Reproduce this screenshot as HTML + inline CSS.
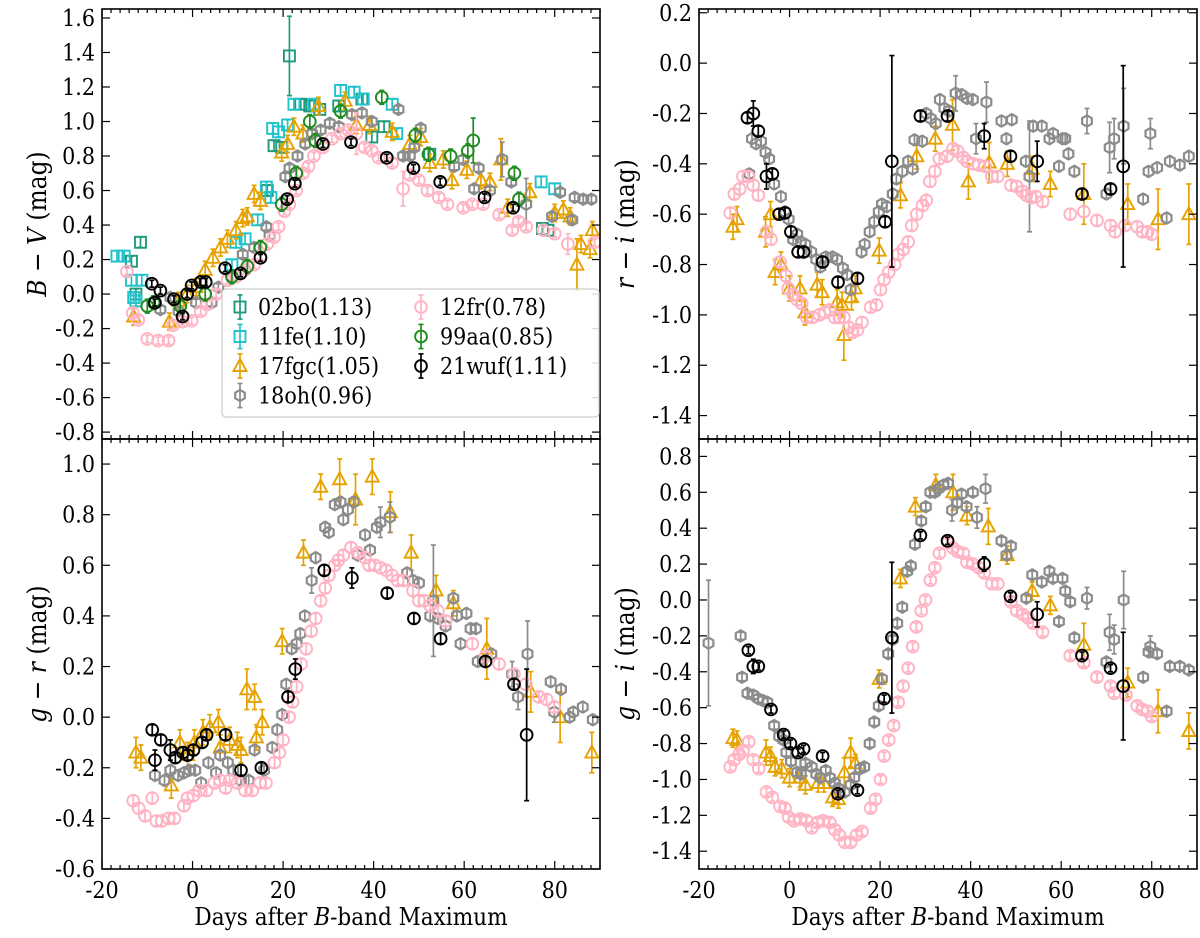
<!DOCTYPE html>
<html><head><meta charset="utf-8"><style>
html,body{margin:0;padding:0;background:#fff;}
svg{display:block;font-family:"DejaVu Serif Condensed","DejaVu Serif","Liberation Serif",serif;}
</style></head><body>
<svg id="fig" width="1200" height="938" viewBox="0 0 1200 938" xmlns="http://www.w3.org/2000/svg"></svg>
<script>
// ---------- DATA: [day, colour, (error)] ----------
// Panel 1: B - V
const bv02bo=[[-13.5,0.19],[-11.5,0.30],[-12.5,0.0],[16.5,0.6],[18,0.86],[19.7,0.85],[21.4,1.38,0.23],[23.9,1.1],[25.9,1.09],[28.1,1.07],[32.3,1.09],[37.4,1.13],[39.6,0.91],[42.3,0.97],[52.4,0.81],[77.3,0.38],[78.5,0.37]];
const bv11fe=[[-16.7,0.22],[-15.1,0.22],[-13.5,0.08],[-11.2,0.08],[-13,-0.02],[-12.5,-0.04],[8.7,0.17],[9.6,0.30],[11.6,0.32],[14.4,0.43],[16.3,0.62],[17.3,0.56],[17.7,0.96],[19,0.94],[21,0.98],[22.4,1.1],[26.8,1.1],[32.7,1.18],[35.7,1.17],[37.7,1.13],[44.1,1.1],[45.1,0.93],[77,0.65],[80,0.61]];
const bv17fgc=[[-13,-0.13],[-5.1,-0.16],[-3.1,-0.04],[-1.2,0],[0.8,0.04],[2.8,0.14],[4.5,0.21],[6.2,0.27],[7.7,0.32],[9.6,0.37],[11.1,0.44],[12.1,0.45],[13.6,0.58],[15,0.54],[19.7,0.82],[21,0.87],[22.4,0.97],[24.4,0.93],[27.8,1.09],[33.7,1.12],[36.2,0.98],[39.1,0.98],[44.1,0.94],[48,0.87],[50.4,0.91],[52.4,0.76],[55.4,0.78],[57.3,0.66],[60.6,0.72],[63.7,0.66],[65.7,0.65],[68.1,0.78,0.12],[69.6,0.5],[74.5,0.59],[80,0.47],[81.9,0.49],[83.4,0.45],[84.9,0.17,0.15],[85.8,0.29],[87.8,0.26],[88.3,0.37]];
const bv18oh=[[-7.1,-0.09],[-4.9,-0.02],[-3.1,-0.10],[0.8,-0.05],[4.2,-0.05],[5.7,0.04],[8.7,0.1],[11.1,0.23],[13.6,0.27],[16.3,0.39],[17,0.34],[20.5,0.68],[21.4,0.73],[23.2,0.8],[24.9,0.87],[26.4,0.93],[28.3,0.95],[30.3,0.99],[32.3,0.97],[35.2,1.04],[37.4,1.05],[39.6,1.0],[45.5,1.07],[46.5,0.8],[48,0.8],[49,0.85],[50.4,0.96],[57.8,0.74],[59.8,0.78],[62.2,0.61],[63.2,0.73],[65.7,0.6],[68.4,0.78,0.1],[70.4,0.65],[73.7,0.52,0.15],[79.4,0.45],[81.2,0.59],[83.9,0.43],[84.4,0.56],[86.3,0.55],[88.1,0.55]];
const bv12fr=[[-14.5,0.13],[-13.2,-0.11],[-12,-0.15],[-10,-0.26],[-7.6,-0.27],[-5.3,-0.27],[-4.3,-0.18],[-2.2,-0.16],[-0.2,-0.155],[1.8,-0.1],[3.2,-0.06],[5.2,0.0],[7.7,0.08],[9.6,0.1],[11.6,0.14],[13.6,0.17],[15,0.22],[16.5,0.29],[18,0.33],[19,0.39],[20.3,0.48],[21.4,0.52],[22.9,0.6],[24.4,0.7],[25.6,0.74],[26.8,0.8],[28.8,0.85],[30.8,0.9],[32.7,0.93],[34.4,0.95],[36.2,0.93,0.12],[38,0.85],[39.6,0.83],[41.1,0.79],[44.1,0.76],[46.5,0.61,0.1],[48,0.69],[50,0.66],[51.9,0.6],[54.4,0.56],[56.3,0.52],[59.8,0.5],[61.8,0.52],[64.2,0.52],[67.7,0.46],[70.6,0.37],[72,0.42],[73.7,0.39],[77.5,0.37],[80,0.35],[82.9,0.29,0.06],[88.8,0.30]];
const bv99aa=[[-10,-0.07],[-8.6,-0.05],[-2.7,-0.07],[2.8,0],[8.7,0.1],[12.1,0.16],[15,0.27],[19.7,0.52],[22.9,0.7],[25.9,1.0],[27.1,0.89],[32.7,1.06],[41.8,1.14],[49.2,0.92],[52.1,0.81],[57,0.8],[60.8,0.83],[62,0.89,0.13],[71.1,0.7],[72.1,0.55]];
const bv21wuf=[[-9,0.06],[-8.3,-0.05],[-7.1,0.02],[-4.1,-0.03],[-2.2,-0.13],[-1.2,0.0],[-0.2,0.05],[1.8,0.07],[2.9,0.07],[7.2,0.15],[10.6,0.12],[15,0.21],[20.9,0.55],[22.6,0.64],[28.8,0.87],[35,0.88],[42.9,0.79],[48.8,0.73],[54.7,0.65],[64.5,0.56],[70.8,0.5]];
// Panel 2: r - i
const ri17fgc=[[-12.5,-0.65],[-11.6,-0.62],[-5.3,-0.67,0.06],[-4.2,-0.60],[-3.2,-0.83],[-1.9,-0.80],[0,-0.895],[2.3,-0.895],[3.4,-0.99],[6.1,-0.88],[7.2,-0.91],[10.5,-0.95],[11.6,-0.96],[12,-1.08,0.1],[13.7,-0.93],[14.5,-0.895],[19.8,-0.745],[24.5,-0.525],[28.1,-0.37],[32.2,-0.30],[36,-0.245,0.1],[39.5,-0.47,0.07],[44.1,-0.395,0.08],[48.1,-0.40],[53.6,-0.42],[57.6,-0.48],[65,-0.52,0.12],[74.7,-0.56,0.08],[81.4,-0.62,0.12],[88.2,-0.60,0.12]];
const ri18oh=[[-8.9,-0.44],[-8.3,-0.30],[-7.4,-0.32],[-6.3,-0.31],[-5.3,-0.355],[-4.5,-0.38],[-3.4,-0.48],[-1.9,-0.53],[-1,-0.59],[-0.2,-0.62],[0.8,-0.70],[1.7,-0.68],[2.5,-0.71],[3.5,-0.72],[4.8,-0.75],[5.9,-0.78],[6.8,-0.81],[8,-0.77],[9.5,-0.77],[10.5,-0.78],[11.8,-0.815],[12.7,-0.84],[13.5,-0.90],[15.9,-0.75],[16.6,-0.72],[17.7,-0.67],[18.7,-0.63],[19.7,-0.59],[20.4,-0.56],[21.5,-0.57],[22.8,-0.52],[23.6,-0.46],[24.9,-0.43],[26.2,-0.39],[27.2,-0.42],[27.6,-0.305],[29.3,-0.31],[30.2,-0.20],[31.2,-0.22],[32.3,-0.24],[33.2,-0.145],[34.2,-0.18],[35.2,-0.19],[36.7,-0.12,0.07],[38,-0.125],[39.2,-0.14],[40.5,-0.145],[41.2,-0.30,0.06],[43.5,-0.155,0.08],[46.8,-0.23],[47.9,-0.30],[49.1,-0.225],[52.2,-0.39],[53,-0.45,0.22],[53.8,-0.25],[55.7,-0.25],[57.4,-0.30],[58.2,-0.28],[59.5,-0.41],[60.3,-0.30],[60.9,-0.30],[61.6,-0.36],[62.9,-0.43],[65.7,-0.23,0.05],[70,-0.52],[70.7,-0.335,0.1],[71.7,-0.30,0.08],[73.8,-0.25,0.15],[78.1,-0.54],[79.3,-0.43],[79.7,-0.28,0.06],[81.2,-0.415],[83.3,-0.615],[84,-0.39],[86.2,-0.405],[88.2,-0.37]];
const ri12fr=[[-13.1,-0.595],[-12.2,-0.52],[-11,-0.50],[-10.3,-0.45],[-9.1,-0.45],[-8,-0.485],[-6.9,-0.525],[-5.1,-0.67],[-4.1,-0.70],[-2.1,-0.79],[-0.8,-0.845],[-0.3,-0.895],[0.8,-0.92],[1.7,-0.94],[2.7,-0.955],[3.8,-1.01],[5.1,-1.01],[6.6,-1.0],[7.8,-0.99],[8.9,-0.98],[10,-1.01],[11,-1.01],[12,-1.01],[13.1,-1.05],[13.9,-1.07],[15,-1.06],[16,-1.03],[17.9,-0.97],[19.2,-0.96],[20.1,-0.90],[20.9,-0.86],[21.9,-0.83],[23.2,-0.80],[24,-0.76],[25.1,-0.74],[26.2,-0.71],[27,-0.645],[28.1,-0.60],[29.4,-0.565],[30.2,-0.545],[31,-0.47],[32.1,-0.43],[33.1,-0.38],[34.8,-0.37],[36.1,-0.34],[37.1,-0.35],[38.4,-0.375],[39.2,-0.39],[40.5,-0.40],[41.8,-0.405],[43.2,-0.41],[44.7,-0.45],[46,-0.45],[48.9,-0.485],[50.2,-0.49],[51.5,-0.51],[52.3,-0.525],[53.4,-0.535],[54.4,-0.53],[55.9,-0.55],[62,-0.60],[65,-0.59],[67.9,-0.625],[70.9,-0.645],[71.9,-0.67],[74.1,-0.645],[76.8,-0.65],[77.9,-0.67],[79.1,-0.67],[80,-0.68]];
const ri21wuf=[[-9.3,-0.217],[-8,-0.20,0.05],[-6.9,-0.27],[-5.1,-0.45,0.05],[-3.8,-0.44],[-2.3,-0.60],[-1,-0.595],[0.3,-0.67],[1.9,-0.75],[3.1,-0.75],[7.3,-0.79],[10.7,-0.87],[15,-0.855],[21.1,-0.63],[22.6,-0.39,0.42],[28.9,-0.21],[34.9,-0.21],[43,-0.29,0.05],[48.8,-0.37],[54.7,-0.39,0.08],[64.6,-0.52],[70.9,-0.50],[73.7,-0.41,0.4]];
// Panel 3: g - r
const gr17fgc=[[-12.5,-0.14,0.06],[-11.4,-0.16],[-4.7,-0.27],[-2.8,-0.10],[-1.1,-0.15],[0.4,-0.10],[2.3,-0.06],[3.8,-0.04],[5.7,-0.02],[6.1,-0.12],[8.2,-0.09],[9.9,-0.11],[10.7,-0.13],[12,0.11,0.08],[13.7,0.08],[14.1,-0.08],[15.4,-0.02],[19.8,0.30],[24.5,0.65],[28.3,0.91],[32.5,0.94,0.08],[36,0.86,0.1],[39.7,0.95,0.07],[43.7,0.81,0.08],[48.3,0.65,0.07],[53.8,0.50,0.06],[57.6,0.45],[65,0.27,0.12],[74.7,0.10,0.08],[81.2,0.0,0.1],[88.2,-0.14,0.08]];
const gr18oh=[[-8.3,-0.23],[-6.2,-0.25],[-4.9,-0.21],[-3.2,-0.23],[-1.9,-0.22],[-0.7,-0.21],[0.6,-0.21],[1.9,-0.26],[3.5,-0.18],[5.2,-0.22],[6.1,-0.15],[7.8,-0.18],[9,-0.21],[10.7,-0.25],[12.4,-0.25],[13.7,-0.13],[15.8,-0.21],[17.6,-0.12],[18.7,-0.05],[19.8,0.01],[20.7,0.13],[21.9,0.27],[23,0.29],[23.8,0.33],[24.8,0.40],[26.3,0.54,0.05],[27.2,0.63],[29.3,0.75],[30.1,0.73],[31.4,0.84],[32.7,0.85],[33.3,0.78],[34.3,0.82],[35.6,0.85],[36.5,0.64],[38.1,0.72],[39.2,0.66],[40.7,0.75],[41.5,0.77,0.06],[43.6,0.79,0.06],[47.4,0.57],[48.7,0.54],[50,0.53],[52.5,0.40],[53.2,0.46,0.22],[54.2,0.39],[55.9,0.36],[57.6,0.47],[58.4,0.40],[59.2,0.29],[60.5,0.41],[61.4,0.35],[62.6,0.35],[63,0.22],[66,0.25],[70.6,0.17,0.05],[71.9,0.08,0.05],[74,0.25,0.13],[79.1,0.14],[79.9,0.02,0.04],[81.4,0.11],[83.3,0.0],[84.1,0.02],[86.2,0.04],[88.4,-0.01]];
const gr12fr=[[-13.1,-0.33],[-11.9,-0.36],[-10.5,-0.39],[-8.9,-0.32],[-8,-0.41],[-6.8,-0.41],[-5.3,-0.40],[-4,-0.40],[-1.9,-0.35],[-1.1,-0.32],[0.2,-0.31],[1.4,-0.29],[3.1,-0.29],[4.8,-0.26],[6.1,-0.25],[7.3,-0.28],[8.2,-0.25],[9.9,-0.26],[11.6,-0.29],[13.2,-0.29],[14.9,-0.26],[16.2,-0.26],[18.1,-0.18],[19.2,-0.14],[20,-0.09],[21.3,0.0],[22.1,0.06],[23,0.12],[24,0.21],[25.1,0.27],[26.2,0.34],[27.2,0.39],[28.3,0.46],[29.3,0.51],[30.1,0.56],[31.4,0.60],[32.2,0.62],[33.3,0.64],[35,0.67],[36.5,0.65],[38.1,0.63],[39,0.60],[40.3,0.60],[41.5,0.59],[42.8,0.58],[44.1,0.56],[45.3,0.54],[46.6,0.54],[48.7,0.50],[50,0.46],[51.2,0.46],[52.5,0.44],[54.2,0.42],[55.9,0.38],[61.8,0.29],[64.7,0.24],[67.7,0.21],[71,0.17],[73.6,0.13],[76.5,0.08],[78.2,0.07],[79.9,0.04]];
const gr21wuf=[[-8.9,-0.05],[-8.3,-0.17,0.04],[-7,-0.09],[-4.9,-0.13,0.04],[-3.8,-0.16],[-2.1,-0.14],[-1.1,-0.15],[0.2,-0.13],[2.1,-0.10],[3.1,-0.07],[7.3,-0.07],[10.7,-0.21],[15.2,-0.20],[21.1,0.08],[22.7,0.19,0.04],[29.1,0.58],[35.2,0.55,0.04],[43,0.49],[48.9,0.39],[54.8,0.31],[64.7,0.22],[71,0.13],[73.8,-0.07,0.26]];
// Panel 4: g - i
const gi17fgc=[[-12.5,-0.77,0.05],[-11.6,-0.78],[-5.2,-0.85,0.07],[-4.2,-0.87],[-3.2,-0.93],[-1.7,-0.94],[0,-0.99],[2.3,-0.99],[3.5,-1.03],[6.3,-1.02],[7.6,-1.02],[9.5,-1.10],[10.8,-1.11],[12.1,-0.96,0.08],[13.5,-0.85,0.08],[14.5,-0.91],[19.8,-0.44],[24.5,0.12],[27.8,0.52],[32.3,0.64,0.06],[36.1,0.60,0.1],[39.2,0.47],[43.9,0.41,0.1],[48.1,0.25],[53.6,0.05],[57.6,-0.03],[65,-0.25,0.12],[74.7,-0.46,0.08],[81.4,-0.62,0.12],[88.2,-0.73,0.1]];
const gi18oh=[[-17.9,-0.24,0.35],[-10.8,-0.20],[-10.5,-0.43],[-9.3,-0.52],[-8,-0.53],[-6.9,-0.55],[-5.9,-0.56],[-4.9,-0.57],[-3.4,-0.70],[-2.3,-0.76],[-1.4,-0.78],[-0.7,-0.85],[0.3,-0.90],[1.7,-0.96],[2.5,-0.97],[3.5,-0.91],[4.9,-0.93],[5.9,-0.97],[6.8,-0.99],[8,-0.95],[8.9,-0.99],[10,-1.02],[10.8,-1.05],[12.2,-1.07],[13.5,-1.03],[14.3,-0.99],[15.6,-0.94],[16.5,-0.93],[17.7,-0.80],[18.7,-0.68],[19.7,-0.59],[20.4,-0.44],[21.8,-0.30],[22.8,-0.22],[23.8,-0.13],[24.9,-0.04],[26,0.16],[26.8,0.19],[27.7,0.31],[29.1,0.44],[30.1,0.52],[31.1,0.60],[32.1,0.60],[32.9,0.62],[34,0.64],[35,0.65],[35.9,0.50,0.06],[37,0.54],[38,0.59],[39.1,0.52],[40.5,0.60],[41.4,0.46,0.06],[43.3,0.62,0.08],[46.8,0.33],[47.9,0.25],[48.9,0.30],[52.3,0.01],[53.6,0.14],[55.7,0.10],[57.4,0.16],[58.2,0.12],[59.5,-0.12],[60.3,0.12],[60.9,0.05],[62,-0.01],[62.9,-0.21],[65.7,0.01,0.06],[70,-0.345],[70.7,-0.18,0.1],[71.7,-0.22,0.08],[73.8,0.0,0.16],[78.1,-0.43],[79.3,-0.29],[79.7,-0.26,0.06],[81.2,-0.30],[83.3,-0.62],[84,-0.37],[86.2,-0.37],[88.2,-0.39]];
const gi12fr=[[-13.1,-0.93],[-12.2,-0.89],[-11.1,-0.86],[-10.3,-0.84],[-9,-0.79],[-8,-0.89],[-6.8,-0.94],[-5.1,-1.07],[-3.8,-1.10],[-2.1,-1.15],[-1,-1.16],[-0.2,-1.21],[1,-1.23],[2.4,-1.22],[3.8,-1.23],[4.9,-1.27],[6.1,-1.24],[7.4,-1.23],[8.9,-1.24],[10,-1.28],[11,-1.31],[12.2,-1.35],[13.5,-1.35],[14.8,-1.31],[16,-1.29],[17.9,-1.16],[19,-1.11],[20.1,-1.0],[20.9,-0.87],[21.9,-0.78],[23,-0.70],[24,-0.57],[25.1,-0.48],[26.2,-0.38],[27.2,-0.26],[28,-0.15],[29.1,-0.06],[30,0.0],[31.1,0.11],[32.1,0.18],[33.1,0.26],[35,0.32],[36.1,0.29],[37.1,0.27],[38.4,0.26],[39.2,0.21],[40.5,0.20],[41.8,0.18],[43,0.15],[44.7,0.09],[46,0.09],[48.9,-0.01],[50.2,-0.06],[51.5,-0.08],[52.7,-0.10],[53.8,-0.13],[55.9,-0.18],[62,-0.31],[65,-0.35],[67.9,-0.43],[70.9,-0.48],[71.7,-0.52],[74.3,-0.53],[76.8,-0.59],[77.9,-0.61],[79.1,-0.62],[80,-0.65]];
const gi21wuf=[[-9.1,-0.28],[-8,-0.37,0.04],[-6.9,-0.37],[-4.1,-0.61],[-1.3,-0.75],[0.2,-0.80],[1.9,-0.85],[3.1,-0.83],[7.3,-0.87],[10.7,-1.08],[15,-1.06],[20.9,-0.55],[22.6,-0.21,0.42],[28.9,0.36],[34.9,0.33],[43,0.20,0.04],[48.8,0.02],[54.7,-0.08,0.07],[64.6,-0.31],[70.9,-0.38],[73.7,-0.48,0.3]];
// axis tick labels
const xTickVals=[-20,0,20,40,60,80];
const bvTicks=[1.6,1.4,1.2,1.0,0.8,0.6,0.4,0.2,0.0,-0.2,-0.4,-0.6,-0.8];
const riTicks=[0.2,0.0,-0.2,-0.4,-0.6,-0.8,-1.0,-1.2,-1.4];
const grTicks=[1.0,0.8,0.6,0.4,0.2,0.0,-0.2,-0.4,-0.6];
const giTicks=[0.8,0.6,0.4,0.2,0.0,-0.2,-0.4,-0.6,-0.8,-1.0,-1.2,-1.4];
const legendLabels=["02bo(1.13)","11fe(1.10)","17fgc(1.05)","18oh(0.96)","12fr(0.78)","99aa(0.85)","21wuf(1.11)"];

// ---------- STYLE ----------
const STY={
 "02bo":{c:"#1f9a7c",m:"square",e:0.03},
 "11fe":{c:"#1fc3cc",m:"square",e:0.03},
 "17fgc":{c:"#e6a200",m:"tri",e:0.05},
 "18oh":{c:"#8c8c8c",m:"hex",e:0.02},
 "12fr":{c:"#ffb3c3",m:"circle",e:0.02},
 "99aa":{c:"#1e8c1e",m:"circle",e:0.04},
 "21wuf":{c:"#000000",m:"circle",e:0.02}
};
const NS="http://www.w3.org/2000/svg";
const svg=document.getElementById('fig');
function mk(tag,attrs,parent){const el=document.createElementNS(NS,tag);for(const k in attrs)el.setAttribute(k,attrs[k]);(parent||svg).appendChild(el);return el;}

function marker(g,name,x,y,err,sy){
 const s=STY[name];
 const grp=mk('g',{},g);
 
 
 const e=(err===undefined)?s.e:err;
 const yt=sy(0)-sy(e);
 mk('line',{x1:x,x2:x,y1:y-yt,y2:y+yt,stroke:s.c,'stroke-width':1.7},grp);
 mk('line',{x1:x-2.5,x2:x+2.5,y1:y-yt,y2:y-yt,stroke:s.c,'stroke-width':1.7},grp);
 mk('line',{x1:x-2.5,x2:x+2.5,y1:y+yt,y2:y+yt,stroke:s.c,'stroke-width':1.7},grp);
 const st={fill:'none',stroke:s.c,'stroke-width':1.9};
 if(s.m==='square'){mk('rect',Object.assign({x:x-5.5,y:y-5.5,width:11,height:11},st),grp);}
 else if(s.m==='circle'){mk('circle',Object.assign({cx:x,cy:y,r:5.9},st),grp);}
 else if(s.m==='tri'){mk('polygon',Object.assign({points:`${x},${y-7} ${x-6.5},${y+5} ${x+6.5},${y+5}`},st),grp);}
 else if(s.m==='hex'){let p=[];for(let i=0;i<6;i++){const a=Math.PI/3*i+Math.PI/2;p.push((x+5.6*Math.cos(a)).toFixed(1)+','+(y+5.6*Math.sin(a)).toFixed(1));}mk('polygon',Object.assign({points:p.join(' ')},st,{'stroke-width':2.2}),grp);}
}

function panel(cfg){
 const {x0,x1,y0,y1,ymin,ymax,yticks,xlabels,ylabel,series,name,labelSide}=cfg;
 const sx=d=>x0+(d+20)/110*(x1-x0);
 const sy=v=>y1-(v-ymin)/(ymax-ymin)*(y1-y0);
 const g=mk('g',{});
 
 
 const clip=mk('clipPath',{id:'clip-'+name},g);
 mk('rect',{x:x0,y:y0,width:x1-x0,height:y1-y0},clip);
 const pg=mk('g',{'clip-path':'url(#clip-'+name+')'},g);
 
 
 for(const [sname,arr] of series){for(const p of arr){marker(pg,sname,sx(p[0]),sy(p[1]),p[2],sy);}}
 const fr=mk('rect',{x:x0,y:y0,width:x1-x0,height:y1-y0,fill:'none',stroke:'#000','stroke-width':1.6},g);
 
 
 for(let d=-20;d<=90;d+=2){const X=sx(d);const maj=xTickVals.includes(d);const L=maj?8:4;
  mk('line',{x1:X,x2:X,y1:y1,y2:y1-L,stroke:'#000','stroke-width':1.2},g);
  mk('line',{x1:X,x2:X,y1:y0,y2:y0+L,stroke:'#000','stroke-width':1.2},g);}
 if(xlabels){for(const d of xTickVals){const t=mk('text',{x:sx(d),y:y1+29,'font-size':23,'text-anchor':'middle',fill:'#000'},g);t.textContent=String(d);
   
   }}
 for(const v of yticks){const Y=sy(v);
  mk('line',{x1:x0,x2:x0+8,y1:Y,y2:Y,stroke:'#000','stroke-width':1.2},g);
  mk('line',{x1:x1,x2:x1-8,y1:Y,y2:Y,stroke:'#000','stroke-width':1.2},g);
  const t=mk('text',{x:x0-7,y:Y+8,'font-size':23,'text-anchor':'end',fill:'#000'},g);
  t.textContent=v.toFixed(1);
  
  }
 const lx=labelSide;const ly=(y0+y1)/2;
 const yl=mk('text',{x:lx,y:ly,'font-size':26,'text-anchor':'middle',transform:`rotate(-90 ${lx} ${ly})`,fill:'#000'},g);
 
 
 yl.innerHTML=ylabel;
 if(xlabels){const xt=mk('text',{x:(x0+x1)/2,y:925,'font-size':24,'text-anchor':'middle',fill:'#000'},g);
  
  
  xt.innerHTML='Days after <tspan font-style="italic">B</tspan>-band Maximum';}
 return {sx,sy};
}

panel({name:'panel-b-v',x0:102,x1:600,y0:9,y1:439,ymin:-0.84,ymax:1.652,yticks:bvTicks,xlabels:false,labelSide:46,
 ylabel:'<tspan font-style="italic">B</tspan> − <tspan font-style="italic">V</tspan> (mag)',
 series:[["02bo",bv02bo],["11fe",bv11fe],["17fgc",bv17fgc],["18oh",bv18oh],["12fr",bv12fr],["99aa",bv99aa],["21wuf",bv21wuf]]});
panel({name:'panel-r-i',x0:699,x1:1197,y0:9,y1:439,ymin:-1.493,ymax:0.215,yticks:riTicks,xlabels:false,labelSide:634,
 ylabel:'<tspan font-style="italic">r</tspan> − <tspan font-style="italic">i</tspan> (mag)',
 series:[["17fgc",ri17fgc],["18oh",ri18oh],["12fr",ri12fr],["21wuf",ri21wuf]]});
panel({name:'panel-g-r',x0:102,x1:600,y0:439,y1:869,ymin:-0.6,ymax:1.099,yticks:grTicks,xlabels:true,labelSide:46,
 ylabel:'<tspan font-style="italic">g</tspan> − <tspan font-style="italic">r</tspan> (mag)',
 series:[["17fgc",gr17fgc],["18oh",gr18oh],["12fr",gr12fr],["21wuf",gr21wuf]]});
panel({name:'panel-g-i',x0:699,x1:1197,y0:439,y1:869,ymin:-1.499,ymax:0.897,yticks:giTicks,xlabels:true,labelSide:634,
 ylabel:'<tspan font-style="italic">g</tspan> − <tspan font-style="italic">i</tspan> (mag)',
 series:[["17fgc",gi17fgc],["18oh",gi18oh],["12fr",gi12fr],["21wuf",gi21wuf]]});

const lg=mk('g',{});


mk('rect',{x:222,y:289,width:377,height:128,rx:4,fill:'#fff','fill-opacity':0.85,stroke:'#cccccc','stroke-width':1.2},lg);
const legNames=["02bo","11fe","17fgc","18oh","12fr","99aa","21wuf"];
const legSy=v=>-v*172.5;
legNames.forEach((n,i)=>{
 const col=i<4?0:1;const row=i<4?i:i-4;
 const mx=col?421:240;const tx=col?440:258;const y=307+row*29.5;
 const eg=mk('g',{},lg);
 
 
 marker(eg,n,mx,y,0.07,legSy);
 const t=mk('text',{x:tx,y:y+8,'font-size':23,fill:'#000'},eg);
 t.textContent=legendLabels[i];
});
</script>
</body></html>
